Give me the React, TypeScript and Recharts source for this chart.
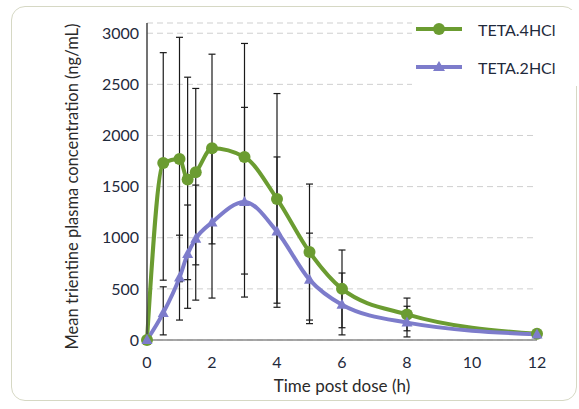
import { LineChart, Line, XAxis, YAxis, CartesianGrid, ErrorBar, Legend } from 'recharts';

// time points (h)
const TIMES = [0, 0.5, 1, 1.25, 1.5, 2, 3, 4, 5, 6, 8, 12];

// mean concentrations (ng/mL)
const TETA4 = [0, 1730, 1770, 1570, 1640, 1875, 1790, 1380, 860, 500, 250, 60];
const TETA2 = [0, 265, 610, 840, 990, 1150, 1350, 1060, 590, 345, 170, 55];

// error bar ends (ng/mL), low / high; equal ends = no bar
const TETA4_LOW = [0, 585, 570, 590, 735, 940, 645, 360, 195, 120, 90, 60];
const TETA4_HIGH = [0, 2810, 2960, 2570, 2460, 2795, 2900, 2410, 1525, 880, 410, 60];
const TETA2_LOW = [0, 50, 195, 310, 390, 410, 420, 320, 160, 50, 30, 55];
const TETA2_HIGH = [0, 520, 1025, 1320, 1515, 1890, 2275, 1790, 1045, 655, 330, 55];

const Y_TICKS = [0, 500, 1000, 1500, 2000, 2500, 3000];
const X_TICKS = [0, 2, 4, 6, 8, 10, 12];

const GREEN = "#6b9c31";
const PURPLE = "#7d7ccb";
const FONT = "Lato, 'Open Sans', sans-serif";
const TEXT = "#1f2a3c";

const errOf = (v: number, lo: number, hi: number) => (lo === hi ? null : [v - lo, hi - v]);

const data = TIMES.map((t, i) => ({
  time: t,
  teta4: TETA4[i],
  teta2: TETA2[i],
  err4: errOf(TETA4[i], TETA4_LOW[i], TETA4_HIGH[i]),
  err2: errOf(TETA2[i], TETA2_LOW[i], TETA2_HIGH[i]),
}));

const Triangle = (props: any) => {
  const { cx, cy, fill } = props;
  if (cx == null || cy == null) return null;
  return <polygon points={`${cx},${cy - 6} ${cx - 5.5},${cy + 4} ${cx + 5.5},${cy + 4}`} fill={fill} />;
};

const LegendBox = () => (
  <div style={{ background: '#fff', fontFamily: FONT, fontSize: 16, color: TEXT, paddingLeft: 4 }}>
    {[
      { name: 'TETA.4HCl', color: GREEN, shape: 'circle' },
      { name: 'TETA.2HCl', color: PURPLE, shape: 'triangle' },
    ].map((s) => (
      <div key={s.name} style={{ display: 'flex', alignItems: 'center', height: 38 }}>
        <svg width={46} height={14}>
          <line x1={0} y1={7} x2={46} y2={7} stroke={s.color} strokeWidth={4} />
          {s.shape === 'circle'
            ? <circle cx={23} cy={7} r={6} fill={s.color} />
            : <polygon points="23,1 17,11 29,11" fill={s.color} />}
        </svg>
        <span style={{ marginLeft: 16 }}>{s.name}</span>
      </div>
    ))}
  </div>
);

const YTitle = (props: any) => {
  const { viewBox } = props;
  const x = 72;
  const y = viewBox.y + viewBox.height / 2 + 5;
  return (
    <text x={x} y={y} transform={`rotate(-90 ${x} ${y})`} textAnchor="middle" dominantBaseline="central"
      fontFamily={FONT} fontSize={16.5} fill="#2a2a2a">
      Mean trientine plasma concentration (ng/mL)
    </text>
  );
};

export default function App() {
  return (
    <div style={{ position: 'absolute', left: 0, top: 0, width: 579, height: 409, overflow: 'hidden', background: '#fff' }}>
      <div style={{ position: 'absolute', left: 11, top: 6, width: 566, height: 395, border: '1.5px solid #d6d8c4', borderRadius: 14, boxSizing: 'border-box' }} />
      <div style={{ position: 'absolute', left: 0, top: 0 }}>
        <LineChart width={579} height={409} data={data} margin={{ top: 23, right: 42, bottom: 9, left: 0 }}>
          <CartesianGrid horizontal vertical={false} stroke="#cfcfcf" strokeDasharray="6 4" />
          <XAxis
            type="number"
            dataKey="time"
            domain={[0, 12]}
            ticks={X_TICKS}
            height={60}
            tickLine={false}
            tickSize={0}
            tickMargin={17}
            axisLine={{ stroke: '#8a8a8a', strokeWidth: 1.5 }}
            tick={{ fontSize: 16, fill: TEXT, fontFamily: FONT }}
            label={{ value: 'Time post dose (h)', position: 'insideBottom', offset: 8, fontSize: 17, fill: '#2a2a2a', fontFamily: FONT }}
          />
          <YAxis
            type="number"
            domain={[0, 3100]}
            ticks={Y_TICKS}
            width={147}
            tickLine={false}
            tickSize={0}
            tickMargin={8}
            axisLine={{ stroke: '#444', strokeWidth: 1.5 }}
            tick={{ fontSize: 16, fill: TEXT, fontFamily: FONT }}
            label={<YTitle />}
          />
          <Legend verticalAlign="middle" align="center" content={<LegendBox />}
            wrapperStyle={{ position: 'absolute', top: 10, left: 412, width: 167 }} />
          <Line
            type="monotone"
            dataKey="teta4"
            name="TETA.4HCl"
            stroke={GREEN}
            strokeWidth={4}
            dot={{ r: 6, fill: GREEN, stroke: GREEN, strokeWidth: 0 }}
            isAnimationActive={false}
          >
            <ErrorBar dataKey="err4" direction="y" width={3.5} stroke="#1a1a1a" strokeWidth={1.2} isAnimationActive={false} />
          </Line>
          <Line
            type="monotone"
            dataKey="teta2"
            name="TETA.2HCl"
            stroke={PURPLE}
            strokeWidth={4}
            dot={<Triangle fill={PURPLE} />}
            isAnimationActive={false}
          >
            <ErrorBar dataKey="err2" direction="y" width={3.5} stroke="#1a1a1a" strokeWidth={1.2} isAnimationActive={false} />
          </Line>
        </LineChart>
      </div>
    </div>
  );
}
